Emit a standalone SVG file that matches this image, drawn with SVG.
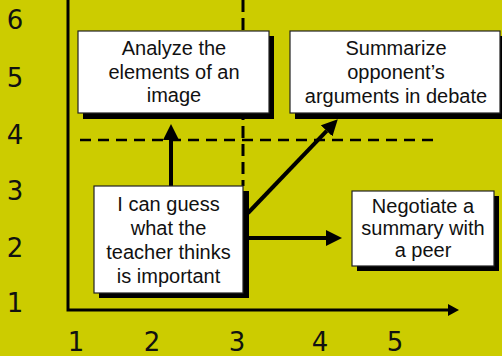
<svg xmlns="http://www.w3.org/2000/svg" width="502" height="356" viewBox="0 0 502 356">
<defs>
<style>
.axis{stroke:#000;stroke-width:3;fill:none}
.dash{stroke:#000;stroke-width:2.5;fill:none;stroke-dasharray:11 7}
.arrow{stroke:#000;stroke-width:4;fill:none}
.shadow{fill:#000}
.box{fill:#fff;stroke:#222;stroke-width:1.2}
.lbl{font-family:"Liberation Sans",Arial,sans-serif;font-size:20px;fill:#111;text-anchor:middle}
.num{font-family:"DejaVu Sans",sans-serif;font-size:26px;fill:#111;text-anchor:middle}
</style>
<marker id="ah" markerUnits="userSpaceOnUse" markerWidth="16" markerHeight="16" refX="0" refY="8" orient="auto">
<path d="M0,0 L16,8 L0,16 z" fill="#000"/>
</marker>
<marker id="ahs" markerUnits="userSpaceOnUse" markerWidth="11" markerHeight="12" refX="0" refY="6" orient="auto">
<path d="M0,0 L11,6 L0,12 z" fill="#000"/>
</marker>
</defs>
<rect width="502" height="356" fill="#CCCC00"/>
<g id="axes">
<polyline class="axis" points="68,0 68,310 448,310" marker-end="url(#ahs)"/>
<g class="num">
<text x="15" y="29">6</text>
<text x="15" y="87">5</text>
<text x="15" y="144">4</text>
<text x="15" y="200">3</text>
<text x="15" y="257">2</text>
<text x="15" y="312">1</text>
<text x="76" y="351">1</text>
<text x="152" y="351">2</text>
<text x="237" y="351">3</text>
<text x="320" y="351">4</text>
<text x="395" y="351">5</text>
</g>
</g>
<g id="guides">
<line class="dash" x1="243" y1="0" x2="243" y2="186" style="stroke-width:3;stroke-dasharray:12 6"/>
<line class="dash" x1="80" y1="140" x2="434" y2="140"/>
</g>
<g id="connectors">
<line class="arrow" x1="171" y1="186" x2="171" y2="140" marker-end="url(#ah)"/>
<line class="arrow" x1="248" y1="213" x2="326.7" y2="130.9" marker-end="url(#ah)"/>
<line class="arrow" x1="249" y1="238" x2="326" y2="238" marker-end="url(#ah)"/>
</g>
<g id="node-analyze">
<rect class="shadow" x="83" y="36" width="191" height="83"/>
<rect class="box" x="78" y="31" width="191" height="82"/>
<text class="lbl"><tspan x="174" y="55">Analyze the</tspan><tspan x="174" y="78.5">elements of an</tspan><tspan x="174" y="102">image</tspan></text>
</g>
<g id="node-summarize">
<rect class="shadow" x="295" y="36" width="210" height="83"/>
<rect class="box" x="290" y="31" width="210" height="82"/>
<text class="lbl"><tspan x="396" y="55">Summarize</tspan><tspan x="396" y="79">opponent’s</tspan><tspan x="396" y="103">arguments in debate</tspan></text>
</g>
<g id="node-guess">
<rect class="shadow" x="99" y="191" width="150" height="107"/>
<rect class="box" x="94" y="186" width="149" height="107"/>
<text class="lbl"><tspan x="168.5" y="211">I can guess</tspan><tspan x="168.5" y="235">what the</tspan><tspan x="168.5" y="259">teacher thinks</tspan><tspan x="168.5" y="283">is important</tspan></text>
</g>
<g id="node-negotiate">
<rect class="shadow" x="357" y="196" width="142" height="75"/>
<rect class="box" x="352" y="191" width="142" height="75"/>
<text class="lbl"><tspan x="423" y="213">Negotiate a</tspan><tspan x="423" y="235">summary with</tspan><tspan x="423" y="257">a peer</tspan></text>
</g>
</svg>
